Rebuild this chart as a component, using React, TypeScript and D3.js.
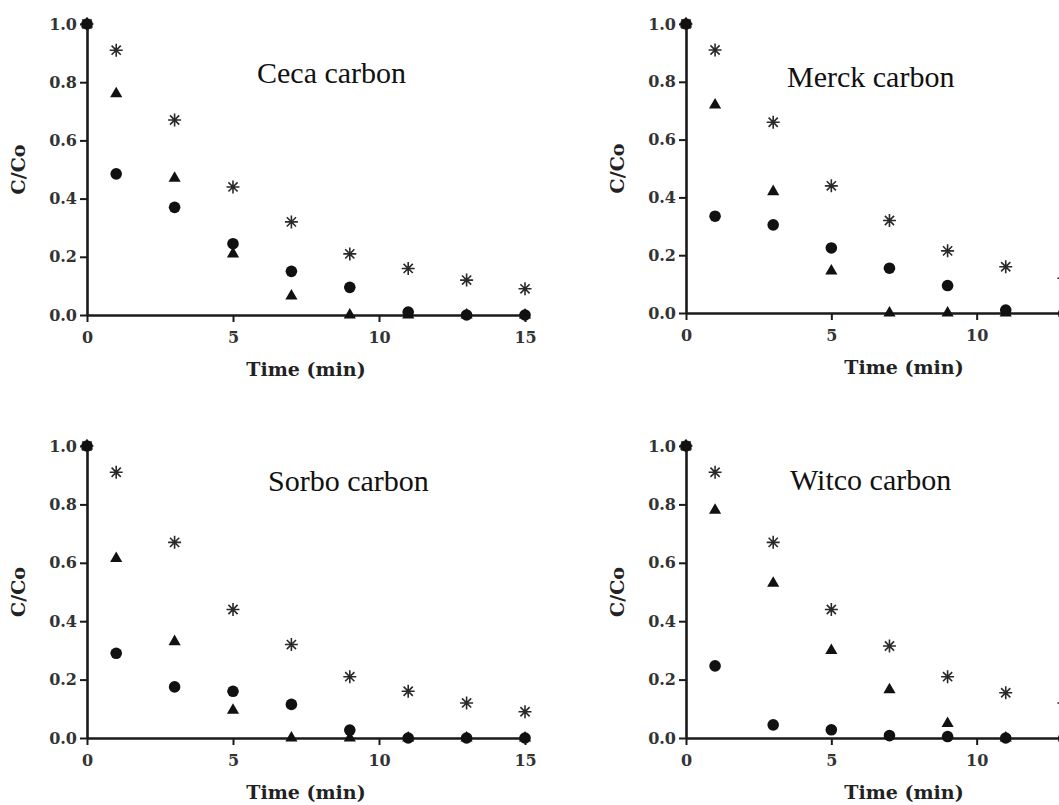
import React, { useEffect, useRef } from "react";
import * as d3 from "d3";

// sampling times (min) and axis ticks
const times = [0, 1, 3, 5, 7, 9, 11, 13, 15];
const xTicks = [0, 5, 10, 15];
const yTicks = [0, 0.2, 0.4, 0.6, 0.8, 1.0];

// C/Co readings, one array per marker type
const cecaStar = [1.0, 0.91, 0.67, 0.44, 0.32, 0.21, 0.16, 0.12, 0.09];
const cecaTri = [1.0, 0.76, 0.47, 0.21, 0.065, 0, 0, 0, 0];
const cecaDot = [1.0, 0.485, 0.37, 0.245, 0.15, 0.095, 0.01, 0, 0];

const merckStar = [1.0, 0.91, 0.66, 0.44, 0.32, 0.215, 0.16, 0.12, 0.09];
const merckTri = [1.0, 0.72, 0.42, 0.145, 0, 0, 0, 0, 0];
const merckDot = [1.0, 0.335, 0.305, 0.225, 0.155, 0.095, 0.01, 0, 0];

const sorboStar = [1.0, 0.91, 0.67, 0.44, 0.32, 0.21, 0.16, 0.12, 0.09];
const sorboTri = [1.0, 0.615, 0.33, 0.095, 0, 0, 0, 0, 0];
const sorboDot = [1.0, 0.29, 0.175, 0.16, 0.115, 0.027, 0, 0, 0];

const witcoStar = [1.0, 0.91, 0.67, 0.44, 0.315, 0.21, 0.155, 0.12, 0.09];
const witcoTri = [1.0, 0.78, 0.53, 0.3, 0.165, 0.05, 0, 0, 0];
const witcoDot = [1.0, 0.247, 0.045, 0.028, 0.008, 0.005, 0, 0, 0];

const titles = ["Ceca carbon", "Merck carbon", "Sorbo carbon", "Witco carbon"];

const W = 1059;
const H = 805;

// where each small plot sits on the page
const panels = [
  { title: titles[0], star: cecaStar, tri: cecaTri, dot: cecaDot, left: 87, right: 525, top: 24, bottom: 315, tx: 257, ty: 83 },
  { title: titles[1], star: merckStar, tri: merckTri, dot: merckDot, left: 686, right: 1122, top: 24, bottom: 313, tx: 787, ty: 87 },
  { title: titles[2], star: sorboStar, tri: sorboTri, dot: sorboDot, left: 87, right: 525, top: 446, bottom: 738, tx: 268, ty: 491 },
  { title: titles[3], star: witcoStar, tri: witcoTri, dot: witcoDot, left: 686, right: 1122, top: 446, bottom: 738, tx: 790, ty: 490 },
];

function asteriskPath(cx: number, cy: number, r: number) {
  let d = "";
  for (let k = 0; k < 4; k++) {
    const a = (k * Math.PI) / 4;
    const dx = Math.cos(a) * r;
    const dy = Math.sin(a) * r;
    d += `M${cx - dx},${cy - dy}L${cx + dx},${cy + dy}`;
  }
  return d;
}

export default function App() {
  const ref = useRef<SVGSVGElement>(null);

  useEffect(() => {
    const svg = d3.select(ref.current);
    svg.selectAll("*").remove();
    svg.append("rect").attr("width", W).attr("height", H).attr("fill", "#ffffff");

    panels.forEach((p) => {
      const x = d3.scaleLinear().domain([0, 15]).range([p.left, p.right]);
      const y = d3.scaleLinear().domain([0, 1]).range([p.bottom, p.top]);
      const g = svg.append("g");

      // only the ticks that fall on the page (right plots run off the edge)
      const shownX = xTicks.filter((t) => x(t) < W);

      // x axis
      const gx = g
        .append("g")
        .attr("transform", "translate(0," + p.bottom + ")")
        .call(
          d3.axisBottom(x).tickValues(shownX).tickSize(7).tickSizeOuter(0).tickPadding(10).tickFormat(d3.format("d"))
        );
      // y axis
      const gy = g
        .append("g")
        .attr("transform", "translate(" + p.left + ",0)")
        .call(
          d3.axisLeft(y).tickValues(yTicks).tickSize(7).tickSizeOuter(0).tickPadding(3).tickFormat(d3.format(".1f"))
        );

      [gx, gy].forEach((a) => {
        a.select(".domain").attr("stroke", "#1a1a1a").attr("stroke-width", 2.6);
        a.selectAll(".tick line").attr("stroke", "#1a1a1a").attr("stroke-width", 2);
        a.selectAll(".tick text")
          .attr("font-family", "'DejaVu Serif', serif")
          .attr("font-weight", "bold")
          .attr("font-size", 16)
          .attr("fill", "#333");
      });

      // axis titles
      g.append("text")
        .attr("x", (p.left + p.right) / 2)
        .attr("y", p.bottom + 61)
        .attr("text-anchor", "middle")
        .attr("font-family", "'DejaVu Serif', serif")
        .attr("font-weight", "bold")
        .attr("font-size", 19)
        .attr("fill", "#222")
        .text("Time (min)");

      const ly = (p.top + p.bottom) / 2;
      g.append("text")
        .attr("transform", `translate(${p.left - 62},${ly}) rotate(-90)`)
        .attr("text-anchor", "middle")
        .attr("font-family", "'DejaVu Serif', serif")
        .attr("font-weight", "bold")
        .attr("font-size", 19)
        .attr("fill", "#222")
        .text("C/Co");

      // panel title
      g.append("text")
        .attr("x", p.tx)
        .attr("y", p.ty)
        .attr("font-family", "'Liberation Serif', 'Times New Roman', serif")
        .attr("font-size", 30)
        .attr("fill", "#111")
        .text(p.title);

      // asterisks
      g.selectAll(".star")
        .data(times)
        .enter()
        .append("path")
        .attr("d", (t, i) => asteriskPath(x(t), y(p.star[i]), 6.5))
        .attr("stroke", "#2a2a2a")
        .attr("stroke-width", 1.6)
        .attr("fill", "none");

      // triangles
      const tri = d3.symbol().type(d3.symbolTriangle).size(64);
      g.selectAll(".tri")
        .data(times)
        .enter()
        .append("path")
        .attr("d", tri as any)
        .attr("transform", (t, i) => `translate(${x(t)},${y(p.tri[i])})`)
        .attr("fill", "#111");

      // circles
      g.selectAll(".dot")
        .data(times)
        .enter()
        .append("circle")
        .attr("cx", (t) => x(t))
        .attr("cy", (t, i) => y(p.dot[i]))
        .attr("r", 5.8)
        .attr("fill", "#111");
    });
  }, []);

  return (
    <svg
      ref={ref}
      width={W}
      height={H}
      style={{ position: "absolute", left: 0, top: 0, display: "block" }}
    />
  );
}
